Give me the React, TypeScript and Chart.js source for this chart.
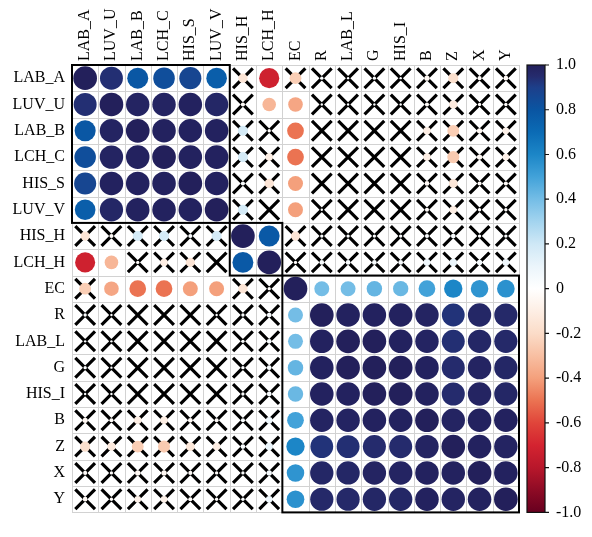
import React, { useEffect, useRef } from 'react';
import { Chart, registerables } from 'chart.js';

Chart.register(...registerables);

const variables = ['LAB_A', 'LUV_U', 'LAB_B', 'LCH_C', 'HIS_S', 'LUV_V', 'HIS_H', 'LCH_H', 'EC', 'R', 'LAB_L', 'G', 'HIS_I', 'B', 'Z', 'X', 'Y'];

// correlation rows (same order as variables)
const rowLAB_A = [1.00, 0.94, 0.79, 0.83, 0.87, 0.76, -0.15, -0.72, -0.25, 0.02, 0.01, 0.02, 0.01, -0.05, -0.18, -0.03, -0.04];
const rowLUV_U = [0.94, 1.00, 0.98, 0.98, 0.99, 0.97, -0.03, -0.33, -0.38, 0.01, 0.01, 0.01, 0.01, -0.03, -0.12, -0.02, -0.02];
const rowLAB_B = [0.79, 0.98, 1.00, 0.99, 0.99, 0.99, 0.18, -0.02, -0.50, 0.00, 0.00, 0.00, 0.00, -0.10, -0.25, -0.05, -0.08];
const rowLCH_C = [0.83, 0.98, 0.99, 1.00, 0.99, 0.99, 0.18, -0.10, -0.50, 0.00, 0.00, 0.00, 0.00, -0.10, -0.26, -0.05, -0.08];
const rowHIS_S = [0.87, 0.99, 0.99, 0.99, 1.00, 0.99, 0.03, -0.15, -0.40, 0.00, 0.00, 0.00, 0.00, -0.04, -0.14, -0.03, -0.03];
const rowLUV_V = [0.76, 0.97, 0.99, 0.99, 0.99, 1.00, 0.18, 0.00, -0.40, 0.01, 0.00, 0.00, 0.00, -0.03, -0.10, -0.02, -0.02];
const rowHIS_H = [-0.15, -0.03, 0.18, 0.18, 0.03, 0.18, 1.00, 0.78, -0.15, 0.02, 0.02, 0.02, 0.02, 0.03, 0.04, 0.02, 0.02];
const rowLCH_H = [-0.72, -0.33, -0.02, -0.10, -0.15, 0.00, 0.78, 1.00, -0.02, 0.04, 0.04, 0.04, 0.04, 0.08, 0.10, 0.05, 0.08];
const rowEC = [-0.25, -0.38, -0.50, -0.50, -0.40, -0.40, -0.15, -0.02, 1.00, 0.40, 0.40, 0.43, 0.42, 0.50, 0.60, 0.55, 0.56];
const rowR = [0.02, 0.01, 0.00, 0.00, 0.00, 0.01, 0.02, 0.04, 0.40, 1.00, 0.99, 0.99, 0.99, 0.98, 0.93, 0.97, 0.96];
const rowLAB_L = [0.01, 0.01, 0.00, 0.00, 0.00, 0.00, 0.02, 0.04, 0.40, 0.99, 1.00, 1.00, 0.99, 0.98, 0.94, 0.97, 0.96];
const rowG = [0.02, 0.01, 0.00, 0.00, 0.00, 0.00, 0.02, 0.04, 0.43, 0.99, 1.00, 1.00, 1.00, 0.99, 0.95, 0.98, 0.97];
const rowHIS_I = [0.01, 0.01, 0.00, 0.00, 0.00, 0.00, 0.02, 0.04, 0.42, 0.99, 0.99, 1.00, 1.00, 0.99, 0.95, 0.98, 0.97];
const rowB = [-0.05, -0.03, -0.10, -0.10, -0.04, -0.03, 0.03, 0.08, 0.50, 0.98, 0.98, 0.99, 0.99, 1.00, 0.98, 0.99, 0.99];
const rowZ = [-0.18, -0.12, -0.25, -0.26, -0.14, -0.10, 0.04, 0.10, 0.60, 0.93, 0.94, 0.95, 0.95, 0.98, 1.00, 0.99, 0.98];
const rowX = [-0.03, -0.02, -0.05, -0.05, -0.03, -0.02, 0.02, 0.05, 0.55, 0.97, 0.97, 0.98, 0.98, 0.99, 0.99, 1.00, 0.99];
const rowY = [-0.04, -0.02, -0.08, -0.08, -0.03, -0.02, 0.02, 0.08, 0.56, 0.96, 0.96, 0.97, 0.97, 0.99, 0.98, 0.99, 1.00];

// significance (1 = significant, 0 = crossed out)
const sigLAB_A = '11111101000000000';
const sigLUV_U = '11111101100000000';
const sigLAB_B = '11111100100000000';
const sigLCH_C = '11111100100000000';
const sigHIS_S = '11111100100000000';
const sigLUV_V = '11111100100000000';
const sigHIS_H = '00000011000000000';
const sigLCH_H = '11000011000000000';
const sigEC = '01111100111111111';
const sigRest = '00000000111111111';

const clusterStarts = [0, 6, 8];
const clusterEnds = [5, 7, 16];

const colorbarTicks = [1, 0.8, 0.6, 0.4, 0.2, 0, -0.2, -0.4, -0.6, -0.8, -1];

const paletteValues = [-1, -0.9, -0.8, -0.7, -0.6, -0.5, -0.4, -0.3, -0.2, -0.1, 0, 0.1, 0.2, 0.3, 0.4, 0.5, 0.6, 0.7, 0.8, 0.9, 0.95, 1];
const paletteColors = ['#67001f', '#8e0b25', '#b8172b', '#d42330', '#e0453a', '#eb7352', '#f4a07c', '#f8bfa2', '#fbdcc8', '#fdeee4', '#ffffff', '#ebf5fb', '#cfe8f6', '#a3d4ef', '#74bde6', '#42a2d9', '#1c86c7', '#0b6bb5', '#0a55a2', '#1d3f8a', '#252b6d', '#23205b'];

const corr = [rowLAB_A, rowLUV_U, rowLAB_B, rowLCH_C, rowHIS_S, rowLUV_V, rowHIS_H, rowLCH_H, rowEC, rowR, rowLAB_L, rowG, rowHIS_I, rowB, rowZ, rowX, rowY];
const sig = [sigLAB_A, sigLUV_U, sigLAB_B, sigLCH_C, sigHIS_S, sigLUV_V, sigHIS_H, sigLCH_H, sigEC, sigRest, sigRest, sigRest, sigRest, sigRest, sigRest, sigRest, sigRest];

function hexToRgb(h: string) {
  return [parseInt(h.slice(1, 3), 16), parseInt(h.slice(3, 5), 16), parseInt(h.slice(5, 7), 16)];
}

function colorFor(v: number) {
  const c = Math.max(-1, Math.min(1, v));
  for (let i = 0; i < paletteValues.length - 1; i++) {
    if (c >= paletteValues[i] && c <= paletteValues[i + 1]) {
      const t = (c - paletteValues[i]) / (paletteValues[i + 1] - paletteValues[i]);
      const a = hexToRgb(paletteColors[i]);
      const b = hexToRgb(paletteColors[i + 1]);
      const m = a.map((x, k) => Math.round(x + (b[k] - x) * t));
      return `rgb(${m[0]},${m[1]},${m[2]})`;
    }
  }
  return paletteColors[paletteColors.length - 1];
}

const FONT = { family: '"Liberation Serif", "Times New Roman", serif', size: 16 };

const cellPlugin = {
  id: 'corrCells',
  beforeDatasetsDraw(chart: any) {
    const { ctx } = chart;
    const x = chart.scales.x;
    const y = chart.scales.y;
    const n = variables.length;
    const x0 = x.getPixelForValue(-0.5);
    const x1 = x.getPixelForValue(n - 0.5);
    const y0 = y.getPixelForValue(-0.5);
    const y1 = y.getPixelForValue(n - 0.5);
    ctx.save();
    ctx.strokeStyle = '#d2d2d2';
    ctx.lineWidth = 1;
    ctx.beginPath();
    for (let k = 0; k <= n; k++) {
      const px = Math.round(x.getPixelForValue(k - 0.5)) + 0.5;
      ctx.moveTo(px, y0);
      ctx.lineTo(px, y1);
      const py = Math.round(y.getPixelForValue(k - 0.5)) + 0.5;
      ctx.moveTo(x0, py);
      ctx.lineTo(x1, py);
    }
    ctx.stroke();
    ctx.restore();
  },
  afterDatasetsDraw(chart: any) {
    const { ctx } = chart;
    const x = chart.scales.x;
    const y = chart.scales.y;
    ctx.save();
    ctx.strokeStyle = '#000';
    ctx.lineWidth = 2;
    clusterStarts.forEach((s, i) => {
      const e = clusterEnds[i];
      const left = x.getPixelForValue(s - 0.5);
      const right = x.getPixelForValue(e + 0.5);
      const top = y.getPixelForValue(s - 0.5);
      const bottom = y.getPixelForValue(e + 0.5);
      ctx.strokeRect(left, top, right - left, bottom - top);
    });
    // colour bar
    const cb = chart.scales.y2;
    const bx = cb.left + 8;
    const bw = 18;
    const top = cb.getPixelForValue(1);
    const bottom = cb.getPixelForValue(-1);
    const grad = ctx.createLinearGradient(0, top, 0, bottom);
    paletteValues.forEach((v, i) => {
      grad.addColorStop((1 - v) / 2, paletteColors[i]);
    });
    ctx.fillStyle = grad;
    ctx.fillRect(bx, top, bw, bottom - top);
    ctx.lineWidth = 1.2;
    ctx.strokeStyle = '#111';
    ctx.strokeRect(bx, top, bw, bottom - top);
    ctx.beginPath();
    colorbarTicks.forEach((v) => {
      const py = cb.getPixelForValue(v);
      ctx.moveTo(bx + bw, py);
      ctx.lineTo(bx + bw + 4, py);
    });
    ctx.stroke();
    ctx.restore();
  },
};

export default function App() {
  const ref = useRef<HTMLCanvasElement>(null);
  useEffect(() => {
    const circles: any[] = [];
    const crosses: any[] = [];
    corr.forEach((row, i) => {
      row.forEach((v, j) => {
        circles.push({ x: j, y: i, v });
        if (sig[i][j] === '0') crosses.push({ x: j, y: i, v });
      });
    });
    const cellPx = (c: any) => {
      const s = c.chart.scales.x;
      if (!s) return 20;
      return Math.abs(s.getPixelForValue(1) - s.getPixelForValue(0));
    };
    const chart = new Chart(ref.current as HTMLCanvasElement, {
      type: 'scatter',
      data: {
        datasets: [
          {
            data: circles,
            pointStyle: 'circle',
            pointRadius: (c: any) => (c.raw ? cellPx(c) * 0.45 * Math.sqrt(Math.abs(c.raw.v)) : 0),
            pointBackgroundColor: (c: any) => (c.raw ? colorFor(c.raw.v) : '#fff'),
            pointBorderWidth: 0,
            pointBorderColor: 'rgba(0,0,0,0)',
          },
          {
            data: crosses,
            pointStyle: 'crossRot',
            pointRadius: (c: any) => cellPx(c) * 0.53,
            pointBorderColor: '#000',
            pointBorderWidth: 3.2,
            pointBackgroundColor: 'rgba(0,0,0,0)',
          },
        ],
      } as any,
      options: {
        responsive: false,
        animation: false,
        events: [],
        layout: { padding: { left: 0, right: 0, top: 0, bottom: 16 } },
        plugins: { legend: { display: false }, tooltip: { enabled: false } },
        scales: {
          x: {
            type: 'linear',
            position: 'top',
            min: -0.5,
            max: variables.length - 0.5,
            afterBuildTicks: (s: any) => {
              s.ticks = variables.map((_, i) => ({ value: i }));
            },
            afterFit: (s: any) => {
              s.height = 57;
            },
            ticks: {
              autoSkip: false,
              maxRotation: 90,
              minRotation: 90,
              padding: 4,
              labelOffset: 19,
              color: '#000',
              font: FONT,
              callback: (v: any) => variables[Math.round(v)],
            },
            grid: { display: false, drawTicks: false },
            border: { display: false },
          },
          y: {
            type: 'linear',
            position: 'left',
            reverse: true,
            min: -0.5,
            max: variables.length - 0.5,
            afterBuildTicks: (s: any) => {
              s.ticks = variables.map((_, i) => ({ value: i }));
            },
            afterFit: (s: any) => {
              s.width = 64;
            },
            ticks: {
              autoSkip: false,
              padding: 7,
              color: '#000',
              font: FONT,
              callback: (v: any) => variables[Math.round(v)],
            },
            grid: { display: false, drawTicks: false },
            border: { display: false },
          },
          y2: {
            type: 'linear',
            position: 'right',
            min: -1,
            max: 1,
            afterBuildTicks: (s: any) => {
              s.ticks = colorbarTicks.map((v) => ({ value: v }));
            },
            afterFit: (s: any) => {
              s.width = 65;
            },
            ticks: {
              autoSkip: false,
              padding: 4,
              color: '#000',
              font: FONT,
              callback: (v: any) => (Math.abs(v) < 1e-9 ? '0' : Number(v).toFixed(1)),
            },
            grid: { display: false, drawTicks: true, tickLength: 33 },
            border: { display: false },
          },
        },
      } as any,
      plugins: [cellPlugin],
    });
    return () => chart.destroy();
  }, []);
  return (
    <div style={{ width: 576, height: 521 }}>
      <canvas ref={ref} width={576} height={521} style={{ display: 'block' }} />
    </div>
  );
}
